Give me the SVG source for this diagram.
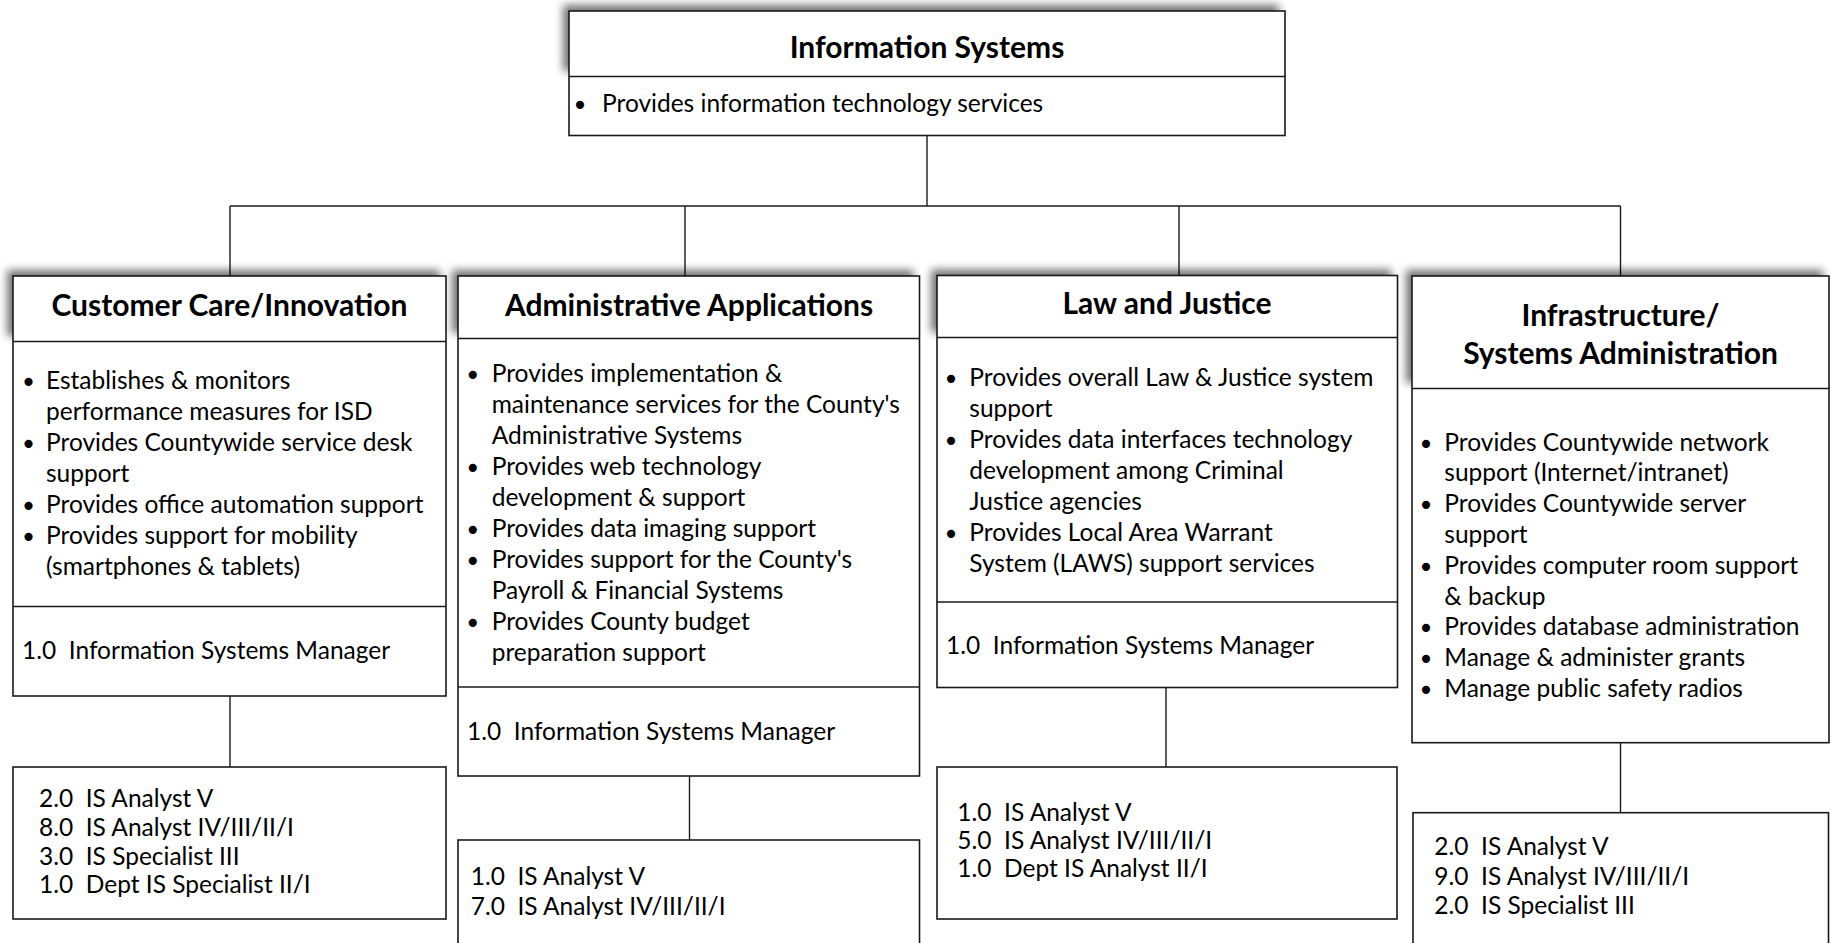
<svg xmlns="http://www.w3.org/2000/svg" width="1832" height="943" viewBox="0 0 1832 943">
<style>
  .box { fill: #fff; stroke: #1a1a1a; stroke-width: 1.6; }
  .div { stroke: #1a1a1a; stroke-width: 1.6; }
  .conn { stroke: #1a1a1a; stroke-width: 1.4; fill: none; }
  .sh { fill: #000; opacity: 0.55; filter: url(#blur); }
  .t { font-family: Lato, "Liberation Sans", sans-serif; font-size: 24.5px; fill: #000; white-space: pre; }
  .h { font-family: Lato, "Liberation Sans", sans-serif; font-size: 30px; font-weight: bold; fill: #000; text-anchor: middle; }
  .b { font-family: "DejaVu Sans", sans-serif; font-size: 28px; fill: #000; text-anchor: middle; }
</style>
<defs>
  <filter id="blur" x="-10%" y="-50%" width="120%" height="200%">
    <feGaussianBlur stdDeviation="4"/>
  </filter>
</defs>
<rect width="1832" height="943" fill="#fff"/>

<g id="connectors">
  <line class="conn" x1="927" y1="135.5" x2="927" y2="206"/>
  <line class="conn" x1="230" y1="206" x2="1620.5" y2="206"/>
  <line class="conn" x1="230" y1="206" x2="230" y2="276"/>
  <line class="conn" x1="685" y1="206" x2="685" y2="276"/>
  <line class="conn" x1="1179" y1="206" x2="1179" y2="276"/>
  <line class="conn" x1="1620.5" y1="206" x2="1620.5" y2="276"/>
  <line class="conn" x1="230" y1="696" x2="230" y2="767"/>
  <line class="conn" x1="689.5" y1="776" x2="689.5" y2="840"/>
  <line class="conn" x1="1166" y1="687.5" x2="1166" y2="767"/>
  <line class="conn" x1="1620.5" y1="742.7" x2="1620.5" y2="812.7"/>
</g>

<g id="information-systems">
  <rect class="sh" x="563" y="5" width="716" height="66"/>
  <rect class="box" x="569" y="11" width="716" height="124.5"/>
  <line class="div" x1="569" y1="76.5" x2="1285" y2="76.5"/>
  <text class="h" x="927" y="58">Information Systems</text>
  <text class="b" x="580" y="114.5">•</text>
  <text class="t" x="602" y="111.5">Provides information technology services</text>
</g>

<g id="customer-care">
  <rect class="sh" x="7" y="270" width="433" height="66"/>
  <rect class="box" x="13" y="276" width="433" height="420"/>
  <line class="div" x1="13" y1="341.5" x2="446" y2="341.5"/>
  <line class="div" x1="13" y1="606.5" x2="446" y2="606.5"/>
  <text class="h" x="229.5" y="316">Customer Care/Innovation</text>
  <text class="b" x="28.5" y="392">•</text>
  <text class="t" x="46" y="389">Establishes &amp; monitors</text>
  <text class="t" x="46" y="420">performance measures for ISD</text>
  <text class="b" x="28.5" y="454">•</text>
  <text class="t" x="46" y="451">Provides Countywide service desk</text>
  <text class="t" x="46" y="482">support</text>
  <text class="b" x="28.5" y="516">•</text>
  <text class="t" x="46" y="513">Provides office automation support</text>
  <text class="b" x="28.5" y="547">•</text>
  <text class="t" x="46" y="544">Provides support for mobility</text>
  <text class="t" x="46" y="575">(smartphones &amp; tablets)</text>
  <text class="t" x="22" y="658.5">1.0  Information Systems Manager</text>
</g>

<g id="administrative-applications">
  <rect class="sh" x="452" y="270" width="461.5" height="63"/>
  <rect class="box" x="458" y="276" width="461.5" height="500"/>
  <line class="div" x1="458" y1="338.5" x2="919.5" y2="338.5"/>
  <line class="div" x1="458" y1="687" x2="919.5" y2="687"/>
  <text class="h" x="689" y="316">Administrative Applications</text>
  <text class="b" x="472.7" y="384.5">•</text>
  <text class="t" x="491.7" y="381.5">Provides implementation &amp;</text>
  <text class="t" x="491.7" y="412.5">maintenance services for the County's</text>
  <text class="t" x="491.7" y="443.5">Administrative Systems</text>
  <text class="b" x="472.7" y="477.5">•</text>
  <text class="t" x="491.7" y="474.5">Provides web technology</text>
  <text class="t" x="491.7" y="505.5">development &amp; support</text>
  <text class="b" x="472.7" y="539.5">•</text>
  <text class="t" x="491.7" y="536.5">Provides data imaging support</text>
  <text class="b" x="472.7" y="570.5">•</text>
  <text class="t" x="491.7" y="567.5">Provides support for the County's</text>
  <text class="t" x="491.7" y="598.5">Payroll &amp; Financial Systems</text>
  <text class="b" x="472.7" y="632.5">•</text>
  <text class="t" x="491.7" y="629.5">Provides County budget</text>
  <text class="t" x="491.7" y="660.5">preparation support</text>
  <text class="t" x="467" y="739.5">1.0  Information Systems Manager</text>
</g>

<g id="law-and-justice">
  <rect class="sh" x="931" y="269.5" width="460.5" height="63"/>
  <rect class="box" x="937" y="275.5" width="460.5" height="412"/>
  <line class="div" x1="937" y1="337.5" x2="1397.5" y2="337.5"/>
  <line class="div" x1="937" y1="602" x2="1397.5" y2="602"/>
  <text class="h" x="1167" y="313.5">Law and Justice</text>
  <text class="b" x="951" y="389">•</text>
  <text class="t" x="969.3" y="386">Provides overall Law &amp; Justice system</text>
  <text class="t" x="969.3" y="417">support</text>
  <text class="b" x="951" y="451">•</text>
  <text class="t" x="969.3" y="448">Provides data interfaces technology</text>
  <text class="t" x="969.3" y="479">development among Criminal</text>
  <text class="t" x="969.3" y="510">Justice agencies</text>
  <text class="b" x="951" y="544">•</text>
  <text class="t" x="969.3" y="541">Provides Local Area Warrant</text>
  <text class="t" x="969.3" y="572">System (LAWS) support services</text>
  <text class="t" x="946" y="653.5">1.0  Information Systems Manager</text>
</g>

<g id="infrastructure">
  <rect class="sh" x="1406" y="270" width="417" height="113"/>
  <rect class="box" x="1412" y="276" width="417" height="466.7"/>
  <line class="div" x1="1412" y1="388.5" x2="1829" y2="388.5"/>
  <text class="h" x="1620.5" y="325.7">Infrastructure/</text>
  <text class="h" x="1620.5" y="364.3">Systems Administration</text>
  <text class="b" x="1426" y="453.5">•</text>
  <text class="t" x="1444.3" y="450.5">Provides Countywide network</text>
  <text class="t" x="1444.3" y="481.3">support (Internet/intranet)</text>
  <text class="b" x="1426" y="515">•</text>
  <text class="t" x="1444.3" y="512">Provides Countywide server</text>
  <text class="t" x="1444.3" y="543">support</text>
  <text class="b" x="1426" y="576.7">•</text>
  <text class="t" x="1444.3" y="573.7">Provides computer room support</text>
  <text class="t" x="1444.3" y="604.5">&amp; backup</text>
  <text class="b" x="1426" y="638.3">•</text>
  <text class="t" x="1444.3" y="635.3">Provides database administration</text>
  <text class="b" x="1426" y="669">•</text>
  <text class="t" x="1444.3" y="666">Manage &amp; administer grants</text>
  <text class="b" x="1426" y="700">•</text>
  <text class="t" x="1444.3" y="697">Manage public safety radios</text>
</g>

<g id="customer-care-staff">
  <rect class="box" x="13" y="767" width="433" height="152"/>
  <text class="t" x="39" y="807">2.0  IS Analyst V</text>
  <text class="t" x="39" y="835.8">8.0  IS Analyst IV/III/II/I</text>
  <text class="t" x="39" y="864.6">3.0  IS Specialist III</text>
  <text class="t" x="39" y="893.4">1.0  Dept IS Specialist II/I</text>
</g>

<g id="administrative-applications-staff">
  <rect class="box" x="458" y="840" width="461.5" height="130"/>
  <text class="t" x="470.7" y="885">1.0  IS Analyst V</text>
  <text class="t" x="470.7" y="914.5">7.0  IS Analyst IV/III/II/I</text>
</g>

<g id="law-and-justice-staff">
  <rect class="box" x="937" y="767" width="460" height="152"/>
  <text class="t" x="957.3" y="820.7">1.0  IS Analyst V</text>
  <text class="t" x="957.3" y="849">5.0  IS Analyst IV/III/II/I</text>
  <text class="t" x="957.3" y="877.3">1.0  Dept IS Analyst II/I</text>
</g>

<g id="infrastructure-staff">
  <rect class="box" x="1413" y="812.7" width="415.5" height="160"/>
  <text class="t" x="1434.3" y="855">2.0  IS Analyst V</text>
  <text class="t" x="1434.3" y="884.5">9.0  IS Analyst IV/III/II/I</text>
  <text class="t" x="1434.3" y="914">2.0  IS Specialist III</text>
</g>
</svg>
